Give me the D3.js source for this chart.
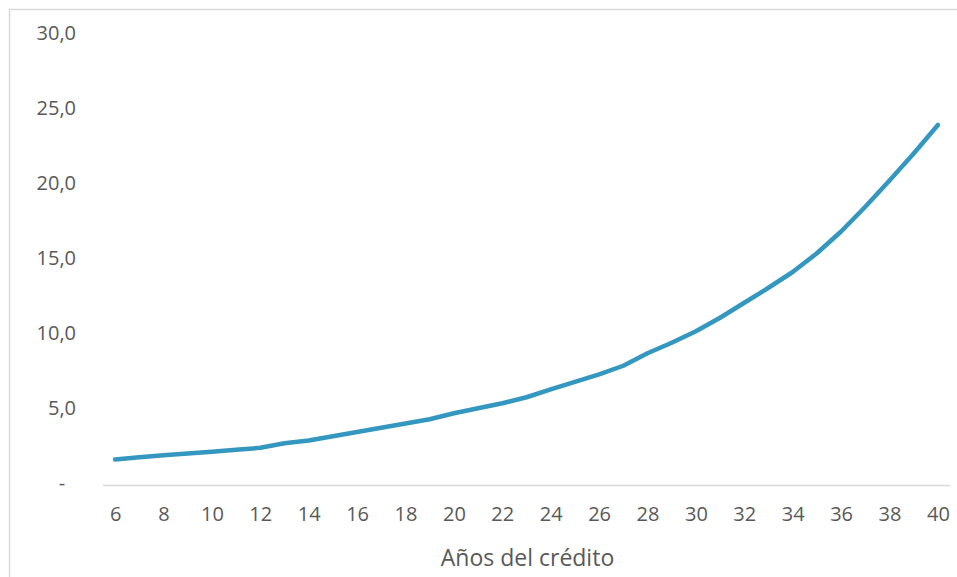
<!DOCTYPE html>
<html lang="es">
  <head>
    <meta charset="utf-8">
    <style>
    body { margin: 0; background: #fff; }
    svg text { font-family: "Open Sans", "Noto Sans", sans-serif; fill: #595959; }
    </style>
  </head>
  <body>
    <script src="https://cdn.jsdelivr.net/npm/d3@7"></script>
    <script>
      // años del crédito y valor de la serie
      var years = [6, 7, 8, 9, 10, 11, 12, 13, 14, 15, 16, 17, 18, 19, 20, 21, 22, 23,
                   24, 25, 26, 27, 28, 29, 30, 31, 32, 33, 34, 35, 36, 37, 38, 39, 40];
      var values = [1.7, 1.85, 1.98, 2.1, 2.22, 2.35, 2.48, 2.78, 2.97, 3.25, 3.53, 3.82,
                    4.1, 4.38, 4.78, 5.12, 5.45, 5.85, 6.38, 6.88, 7.38, 7.95, 8.78, 9.48,
                    10.25, 11.15, 12.15, 13.15, 14.2, 15.45, 16.9, 18.55, 20.3, 22.1, 24.0];
      var yTicks = [0, 5, 10, 15, 20, 25, 30];
      var yTickLabels = ["-", "5,0", "10,0", "15,0", "20,0", "25,0", "30,0"];
      var xTickLabels = [6, 8, 10, 12, 14, 16, 18, 20, 22, 24, 26, 28, 30, 32, 34, 36, 38, 40];
      var xTitle = "Años del crédito";

      var w = 957;
      var h = 577;
      // límites del área de trazado ("top" está reservado en window)
      var plotLeft = 103, plotRight = 950, plotTop = 35, plotBottom = 485;

      var svg = d3.select("body")
        .append("svg")
        .attr("width", w)
        .attr("height", h);

      // marco del gráfico (solo se ven los bordes izquierdo y superior)
      svg.append("rect")
        .attr("x", 9.5)
        .attr("y", 9.5)
        .attr("width", 1000)
        .attr("height", 1000)
        .attr("fill", "none")
        .attr("stroke", "#d9d9d9")
        .attr("stroke-width", 1.5);

      var x = d3.scalePoint()
        .domain(years)
        .range([plotLeft, plotRight])
        .padding(0.5);

      var y = d3.scaleLinear()
        .domain([0, 30])
        .range([plotBottom, plotTop]);

      // eje x
      var xAxis = svg.append("g")
        .attr("transform", "translate(0," + plotBottom + ")")
        .call(d3.axisBottom(x).tickValues(xTickLabels).tickSize(0).tickPadding(22));
      xAxis.select(".domain")
        .attr("d", "M" + plotLeft + ",0.5H" + plotRight)
        .attr("stroke", "#d9d9d9")
        .attr("stroke-width", 1.5);
      xAxis.selectAll("text")
        .attr("font-size", "20px")
        .attr("font-family", null)
        .attr("fill", "#595959");

      // eje y (sin línea)
      var yAxis = svg.append("g")
        .attr("transform", "translate(76,0)")
        .call(d3.axisLeft(y).tickValues(yTicks).tickSize(0).tickPadding(0)
          .tickFormat(function(d, i) { return yTickLabels[i]; }));
      yAxis.select(".domain").remove();
      yAxis.selectAll("text")
        .attr("font-size", "20px")
        .attr("font-family", null)
        .attr("fill", "#595959")
        .attr("dy", "0.2em")
        .filter(function(d) { return d === 0; })
        .attr("text-anchor", "middle")
        .attr("x", -14);

      // línea
      var line = d3.line()
        .x(function(d, i) { return x(years[i]); })
        .y(function(d) { return y(d); });

      svg.append("path")
        .datum(values)
        .attr("d", line)
        .attr("fill", "none")
        .attr("stroke", "#3397c0")
        .attr("stroke-width", 4.5)
        .attr("stroke-linejoin", "round")
        .attr("stroke-linecap", "round");

      // título del eje x
      svg.append("text")
        .attr("x", (plotLeft + plotRight) / 2 + 1)
        .attr("y", 566)
        .attr("text-anchor", "middle")
        .attr("font-size", "23px")
        .text(xTitle);
    </script>
  </body>
</html>
